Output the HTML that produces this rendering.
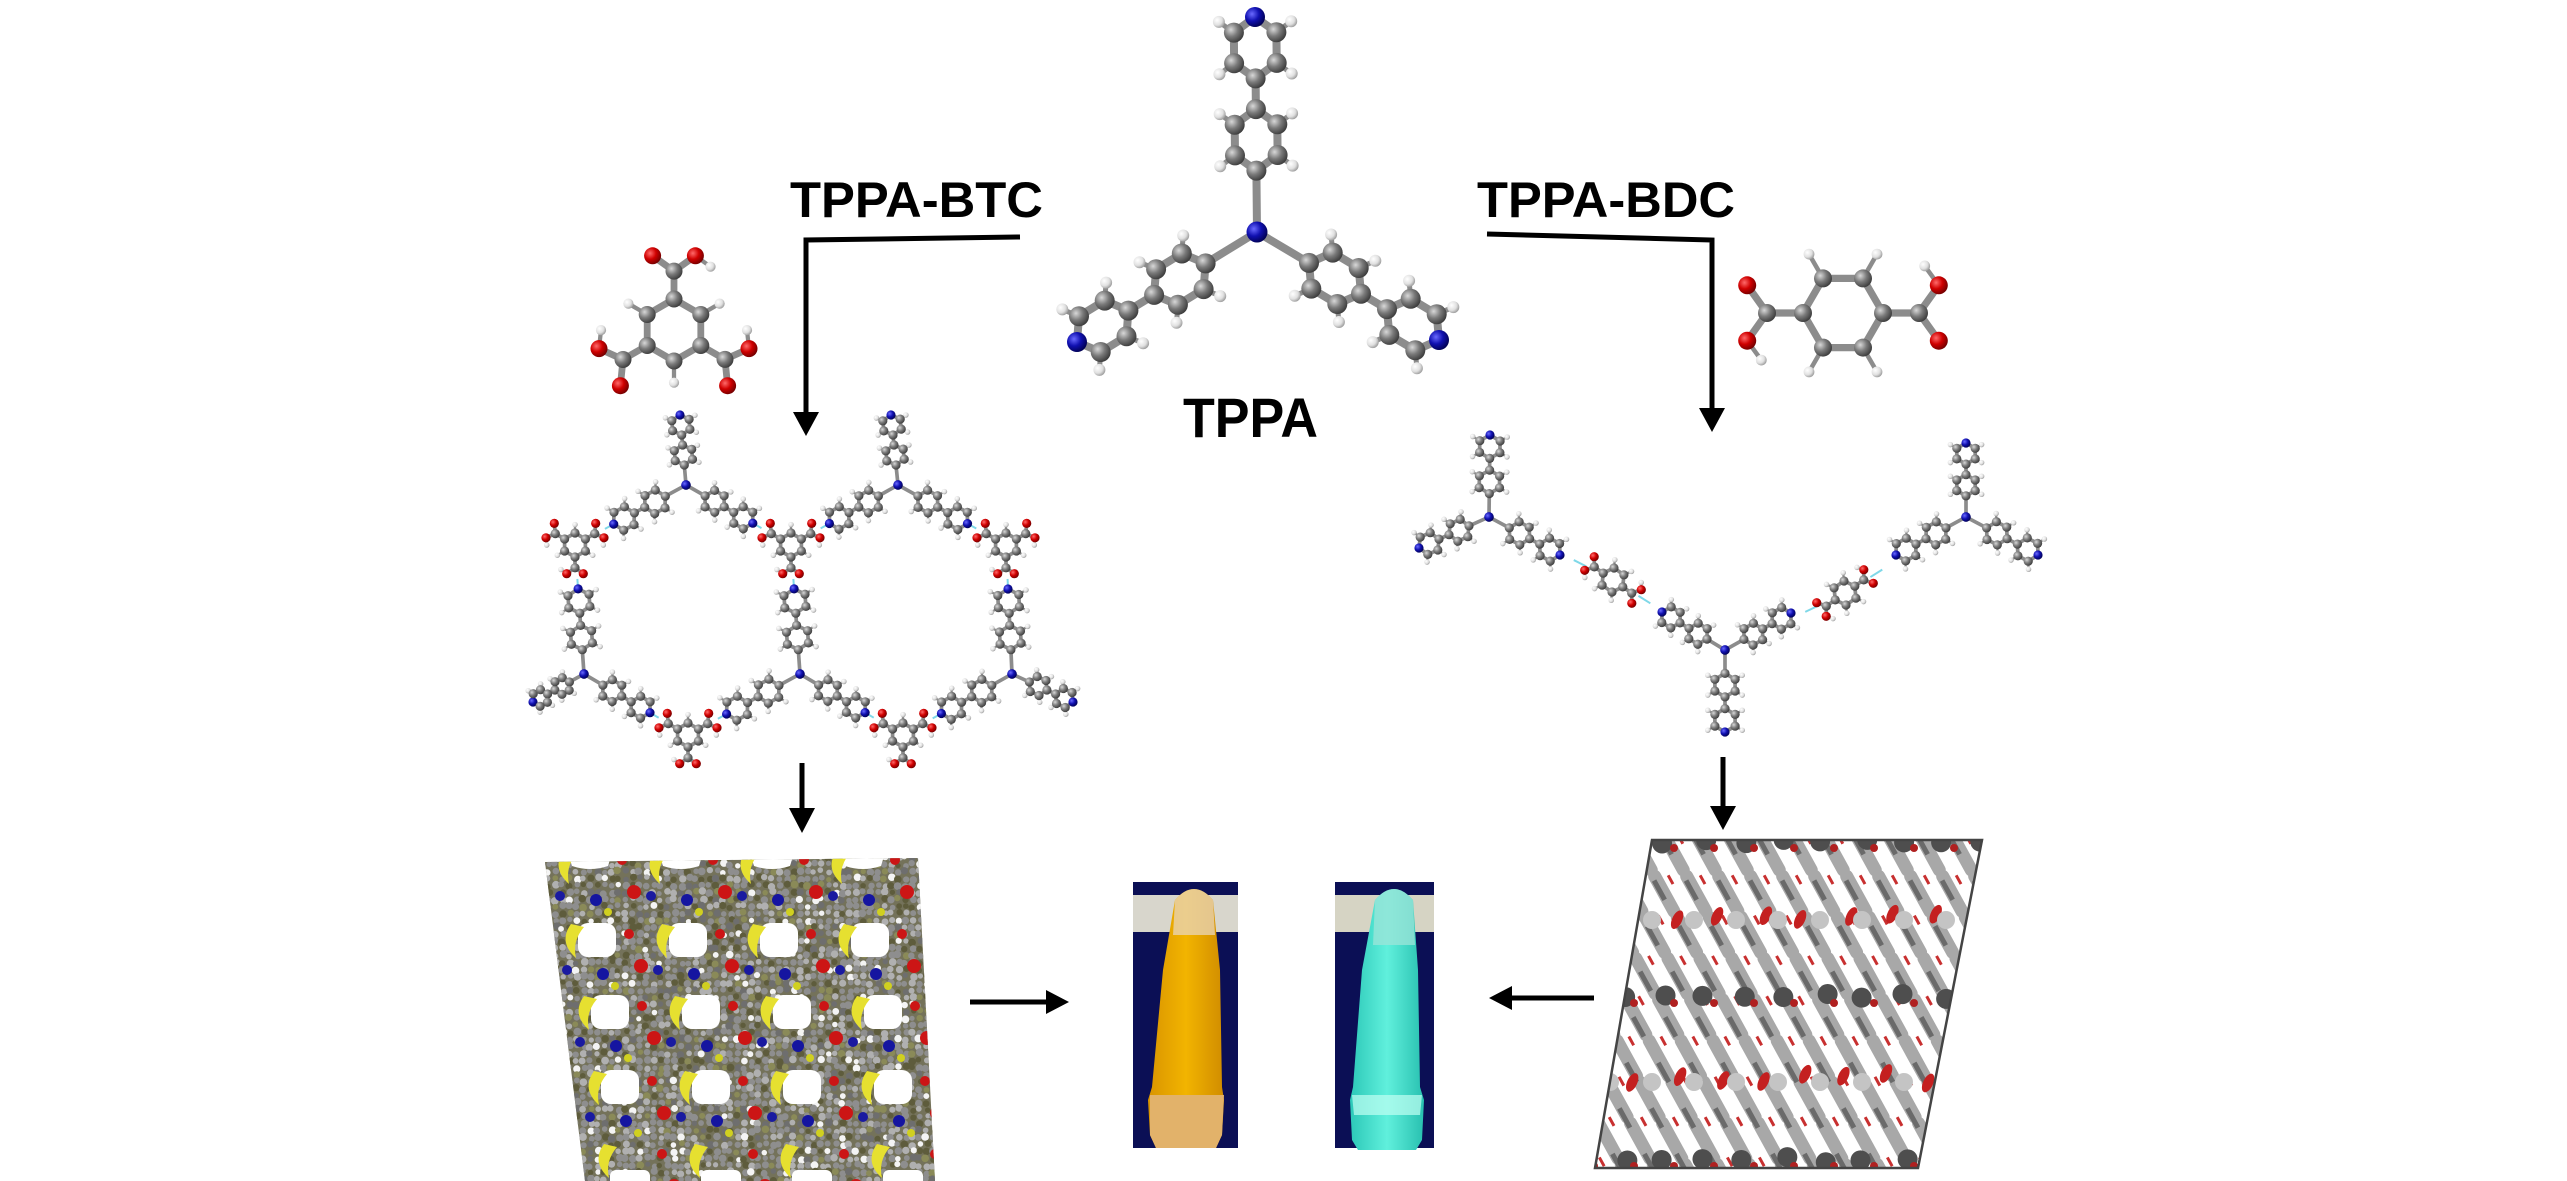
<!DOCTYPE html>
<html><head><meta charset="utf-8"><style>
html,body{margin:0;padding:0;background:#fff;}
svg{display:block;}
</style></head><body>
<svg id="s" xmlns="http://www.w3.org/2000/svg" width="2567" height="1181" viewBox="0 0 2567 1181">
<defs>
<radialGradient id="gC" cx="35%" cy="35%" r="70%"><stop offset="0" stop-color="#d8d8d8"/><stop offset="0.5" stop-color="#7a7a7a"/><stop offset="1" stop-color="#3a3a3a"/></radialGradient>
<radialGradient id="gO" cx="35%" cy="35%" r="70%"><stop offset="0" stop-color="#ff6a6a"/><stop offset="0.5" stop-color="#d00000"/><stop offset="1" stop-color="#700000"/></radialGradient>
<radialGradient id="gN" cx="35%" cy="35%" r="70%"><stop offset="0" stop-color="#6a6aff"/><stop offset="0.5" stop-color="#1010b0"/><stop offset="1" stop-color="#000050"/></radialGradient>
<radialGradient id="gH" cx="35%" cy="35%" r="70%"><stop offset="0" stop-color="#ffffff"/><stop offset="0.6" stop-color="#e0e0e0"/><stop offset="1" stop-color="#9a9a9a"/></radialGradient>
<clipPath id="cl1"><polygon points="545,862 918,858 935,1181 585,1181"/></clipPath>
<clipPath id="cl2"><polygon points="1652,840 1982,840 1918,1168 1595,1168"/></clipPath>
<linearGradient id="yel" x1="0" y1="0" x2="1" y2="0"><stop offset="0" stop-color="#d99400"/><stop offset="0.5" stop-color="#f2b400"/><stop offset="1" stop-color="#d08c00"/></linearGradient>
<linearGradient id="cya" x1="0" y1="0" x2="1" y2="0"><stop offset="0" stop-color="#2cc8b8"/><stop offset="0.5" stop-color="#60f0dc"/><stop offset="1" stop-color="#28c0b0"/></linearGradient>
</defs>
<rect width="2567" height="1181" fill="#fff"/>

<g font-family="Liberation Sans, Arial, sans-serif" font-weight="bold" fill="#000">
<text x="790" y="217" font-size="50" textLength="253" lengthAdjust="spacingAndGlyphs">TPPA-BTC</text>
<text x="1477" y="217" font-size="50" textLength="258" lengthAdjust="spacingAndGlyphs">TPPA-BDC</text>
<text x="1183" y="437" font-size="56" textLength="135" lengthAdjust="spacingAndGlyphs">TPPA</text>
</g>

<g stroke="#000" stroke-width="5" fill="none">
<polyline points="1020,237 806,240 806,418"/>
<polyline points="1487,234 1712,240 1712,414"/>
<line x1="802" y1="763" x2="802" y2="815"/>
<line x1="1723" y1="757" x2="1723" y2="812"/>
<line x1="970" y1="1002" x2="1050" y2="1002"/>
<line x1="1594" y1="998" x2="1508" y2="998"/>
</g>
<g fill="#000">
<polygon points="793,412 819,412 806,436"/>
<polygon points="1699,408 1725,408 1712,432"/>
<polygon points="789,808 815,808 802,833"/>
<polygon points="1710,806 1736,806 1723,830"/>
<polygon points="1046,990 1046,1014 1069,1002"/>
<polygon points="1512,986 1512,1010 1489,998"/>
</g>

<rect x="1133" y="882" width="105" height="266" fill="#0b0f55"/>
<rect x="1133" y="895" width="105" height="37" fill="#d8d6cc"/>
<path d="M1175,900 Q1194,878 1213,900 L1220,970 L1222,1087 L1224,1100 L1222,1135 L1216,1148 L1156,1148 L1150,1135 L1148,1100 L1152,1087 L1163,970 Z" fill="url(#yel)"/>
<path d="M1175,900 Q1194,878 1213,900 L1215,935 L1173,935 Z" fill="#e8d6bc" opacity="0.75"/>
<path d="M1150,1095 L1224,1095 L1222,1135 L1216,1148 L1156,1148 L1150,1135 Z" fill="#e2b26a"/>
<rect x="1335" y="882" width="99" height="266" fill="#0b0f55"/>
<rect x="1335" y="895" width="99" height="37" fill="#d6d4c4"/>
<path d="M1375,900 Q1394,878 1413,900 L1418,970 L1420,1087 L1424,1100 L1422,1140 L1416,1150 L1358,1150 L1352,1140 L1350,1100 L1353,1087 L1362,970 Z" fill="url(#cya)"/>
<path d="M1375,900 Q1394,878 1413,900 L1415,945 L1373,945 Z" fill="#9ee4d8" opacity="0.75"/>
<path d="M1352,1095 L1422,1095 L1420,1115 L1354,1115 Z" fill="#c0fff2" opacity="0.7"/>

<g clip-path="url(#cl1)"><rect x="540" y="840" width="400" height="345" fill="#74725a"/><g id="c1"></g></g>
<g clip-path="url(#cl2)"><rect x="1590" y="835" width="400" height="340" fill="#fff"/><g id="c2"></g></g>
<polygon points="1652,840 1982,840 1918,1168 1595,1168" fill="none" stroke="#444" stroke-width="2.5"/>

<g id="bonds"></g>
<g id="hb"></g>
<g id="atoms"></g>
</svg>
<script>
(function(){
var NS='http://www.w3.org/2000/svg';
var GB=document.getElementById('bonds'),GA=document.getElementById('atoms'),GH=document.getElementById('hb');
function mk(p,t,a){var e=document.createElementNS(NS,t);for(var k in a)e.setAttribute(k,a[k]);p.appendChild(e);return e;}
function ball(x,y,r,t){mk(GA,'circle',{cx:x.toFixed(1),cy:y.toFixed(1),r:r,fill:'url(#g'+t+')'});}
function bond(a,b,w){mk(GB,'line',{x1:a[0].toFixed(1),y1:a[1].toFixed(1),x2:b[0].toFixed(1),y2:b[1].toFixed(1),stroke:'#8c8c8c','stroke-width':w,'stroke-linecap':'round'});}
function hbond(a,b,w){mk(GH,'line',{x1:a[0],y1:a[1],x2:b[0],y2:b[1],stroke:'#7fd8e8','stroke-width':w});}
function ring(cx,cy,R,ax,sq){sq=sq||1;var p=[];for(var k=0;k<6;k++){var a=k*Math.PI/3;var lx=R*Math.cos(a),ly=R*Math.sin(a)*sq;p.push([cx+lx*Math.cos(ax)-ly*Math.sin(ax),cy+lx*Math.sin(ax)+ly*Math.cos(ax)]);}return p;}
function drawRing(p,cx,cy,R,ax,s,nIdx,hIdx){
 for(var k=0;k<6;k++)bond(p[k],p[(k+1)%6],s*0.8);
 for(var j=0;j<hIdx.length;j++){var k=hIdx[j];var h=[cx+1.7*(p[k][0]-cx),cy+1.7*(p[k][1]-cy)];bond(p[k],h,s*0.5);ball(h[0],h[1],s*0.6,'H');}
 for(var k=0;k<6;k++)ball(p[k][0],p[k][1],s,k===nIdx?'N':'C');
}
function arm(x0,y0,ang,L,s,sq){
 var c=Math.cos(ang),sn=Math.sin(ang),R=0.12*L;
 var c1=[x0+0.36*L*c,y0+0.36*L*sn],c2=[x0+0.72*L*c,y0+0.72*L*sn];
 var p1=ring(c1[0],c1[1],R,ang,sq),p2=ring(c2[0],c2[1],R,ang,sq);
 bond([x0,y0],p1[3],s*0.8);bond(p1[0],p2[3],s*0.8);
 drawRing(p1,c1[0],c1[1],R,ang,s,-1,[1,2,4,5]);
 drawRing(p2,c2[0],c2[1],R,ang,s,0,[1,2,4,5]);
 return p2[0];
}
function TP(cx,cy,ends,s,sq){
 for(var i=0;i<ends.length;i++){var e=ends[i];var dx=e[0]-cx,dy=e[1]-cy;var d=Math.sqrt(dx*dx+dy*dy);arm(cx,cy,Math.atan2(dy,dx),d/0.84,s,sq);}
 ball(cx,cy,s*1.05,'N');
}
function carb(cx,cy,ax,R,s,hpos){
 var c=[cx+1.9*R*Math.cos(ax),cy+1.9*R*Math.sin(ax)];
 var r0=[cx+R*Math.cos(ax),cy+R*Math.sin(ax)];
 bond(r0,c,s*0.8);
 var o1=[c[0]+0.85*R*Math.cos(ax+0.95),c[1]+0.85*R*Math.sin(ax+0.95)];
 var o2=[c[0]+0.85*R*Math.cos(ax-0.95),c[1]+0.85*R*Math.sin(ax-0.95)];
 bond(c,o1,s*0.8);bond(c,o2,s*0.8);
 var oh=hpos?o1:o2,sg=hpos?1:-1;
 var h=[oh[0]+0.6*R*Math.cos(ax+sg*2.2),oh[1]+0.6*R*Math.sin(ax+sg*2.2)];
 bond(oh,h,s*0.5);ball(h[0],h[1],s*0.6,'H');
 ball(c[0],c[1],s,'C');ball(o1[0],o1[1],s,'O');ball(o2[0],o2[1],s,'O');
}
function BTC(cx,cy,R,rot,s){
 var p=ring(cx,cy,R,rot);
 drawRing(p,cx,cy,R,rot,s,-1,[1,3,5]);
 carb(cx,cy,rot,R,s,true);carb(cx,cy,rot+2*Math.PI/3,R,s,false);carb(cx,cy,rot+4*Math.PI/3,R,s,true);
}
function BDC(cx,cy,R,rot,s){
 var p=ring(cx,cy,R,rot);
 drawRing(p,cx,cy,R,rot,s,-1,[1,2,4,5]);
 carb(cx,cy,rot,R,s,false);carb(cx,cy,rot+Math.PI,R,s,false);
}
var D=Math.PI/180;
TP(1257,232,[[1255,17],[1077,342],[1439,340]],10,0.8);
BTC(674,330,31,-90*D,8.5);
BDC(1843,313,40,0,9);

var s=4.6;
var bt=[[575,545],[791,545],[1006,545],[688,735],[903,735]];
bt.forEach(function(b){BTC(b[0],b[1],12,90*D,s);});
function toward(c,b,off){var dx=b[0]-c[0],dy=b[1]-c[1],d=Math.sqrt(dx*dx+dy*dy);var t=(d-off)/d;hbond([c[0]+dx*t,c[1]+dy*t],[c[0]+dx*(d-34)/d,c[1]+dy*(d-34)/d],2);return [c[0]+dx*t,c[1]+dy*t];}
function net(c,list){var ends=[];list.forEach(function(x){if(x.length===3)ends.push(toward(c,x,44));else ends.push(x);});TP(c[0],c[1],ends,s);}
net([686,485],[[680,415],[575,545,1],[791,545,1]]);
net([898,485],[[891,415],[791,545,1],[1006,545,1]]);
net([584,674],[[575,545,1],[533,702],[688,735,1]]);
net([800,674],[[791,545,1],[688,735,1],[903,735,1]]);
net([1012,674],[[1006,545,1],[903,735,1],[1073,702]]);

var bd1=[1613,580],bd2=[1845,593];
BDC(bd1[0],bd1[1],12,35*D,s);BDC(bd2[0],bd2[1],12,-35*D,s);
function ext(c,b,off){var dx=b[0]-c[0],dy=b[1]-c[1],d=Math.sqrt(dx*dx+dy*dy);hbond([b[0]-dx*off/d,b[1]-dy*off/d],[b[0]-dx*30/d,b[1]-dy*30/d],2);}
TP(1489,517,[[1490,435],[1419,548],[1560,555]],s);ext([1489,517],bd1,44);
TP(1725,650,[[1662,612],[1791,613],[1725,732]],s);ext([1725,650],bd1,44);ext([1725,650],bd2,44);
TP(1966,517,[[1966,443],[1896,555],[2038,555]],s);ext([1966,517],bd2,44);

var seed=7;function rnd(){seed=(seed*16807)%2147483647;return seed/2147483647;}
var C1=document.getElementById('c1');
for(var y=842;y<1185;y+=7){for(var x=540;x<945;x+=7){var r=rnd();var col=r<0.4?'#8e8e8e':r<0.6?'#b0b0b0':r<0.68?'#f4f4f4':r<0.82?'#5e5c3c':r<0.92?'#6e6e6e':'#8a8a58';mk(C1,'circle',{cx:x+rnd()*3,cy:y+rnd()*3,r:2.6+rnd()*1.3,fill:col});}}
var rows=[[866,590],[940,597],[1012,610],[1087,620],[1160,630]];
rows.forEach(function(rw,ri){for(var i=0;i<4;i++){var hx=rw[1]+i*91,hy=rw[0];
 if(ri>0&&ri<4){mk(C1,'rect',{x:hx-19,y:hy-17,width:38,height:34,rx:10,fill:'#fff'});}
 else if(ri===0){mk(C1,'path',{d:'M'+(hx-26)+',840 L'+(hx+26)+',840 L'+(hx+18)+',866 Q'+hx+',872 '+(hx-18)+',866 Z',fill:'#fff'});}
 else{mk(C1,'rect',{x:hx-20,y:1170,width:40,height:20,rx:6,fill:'#fff'});}
 mk(C1,'path',{d:'M'+(hx-26)+','+(hy-16)+' q-13,18 5,34 q-4,-17 8,-31 z',fill:'#e6e030'});
 mk(C1,'circle',{cx:hx+6,cy:hy+34,r:6,fill:'#1515a0'});
 mk(C1,'circle',{cx:hx-30,cy:hy+30,r:5,fill:'#1a1aa0'});
 mk(C1,'circle',{cx:hx+44,cy:hy+26,r:7,fill:'#cc1515'});
 mk(C1,'circle',{cx:hx+32,cy:hy-6,r:5,fill:'#cc1515'});
 mk(C1,'circle',{cx:hx+18,cy:hy+46,r:4,fill:'#d0d020'});
}});
var C2=document.getElementById('c2');
for(var k=-14;k<14;k++){var x0=1600+k*32;
 mk(C2,'line',{x1:x0,y1:835,x2:x0+0.55*340,y2:1175,stroke:'#a8a8a8','stroke-width':13,'stroke-dasharray':'40 7','stroke-linecap':'round'});
 mk(C2,'line',{x1:x0-3,y1:835,x2:x0-3+0.55*340,y2:1175,stroke:'#6a6a6a','stroke-width':5,'stroke-dasharray':'22 30'});
 mk(C2,'line',{x1:x0+14,y1:835,x2:x0+14+0.55*340,y2:1175,stroke:'#c83030','stroke-width':3,'stroke-dasharray':'10 36'});
}
[842,997,1160].forEach(function(yy){for(var x=1580;x<2000;x+=40){mk(C2,'circle',{cx:x+rnd()*8,cy:yy+rnd()*6-3,r:10,fill:'#4e4e4e'});mk(C2,'circle',{cx:x+14,cy:yy+6,r:4,fill:'#b02020'});}});
[915,1077].forEach(function(yy){for(var x=1590;x<2000;x+=42){mk(C2,'ellipse',{cx:x+rnd()*10,cy:yy+rnd()*10-5,rx:5,ry:10,fill:'#c42020',transform:'rotate(25 '+x+' '+yy+')'});mk(C2,'circle',{cx:x+20,cy:yy+5,r:9,fill:'#c4c4c4'});}});
})();
</script>
</body></html>
